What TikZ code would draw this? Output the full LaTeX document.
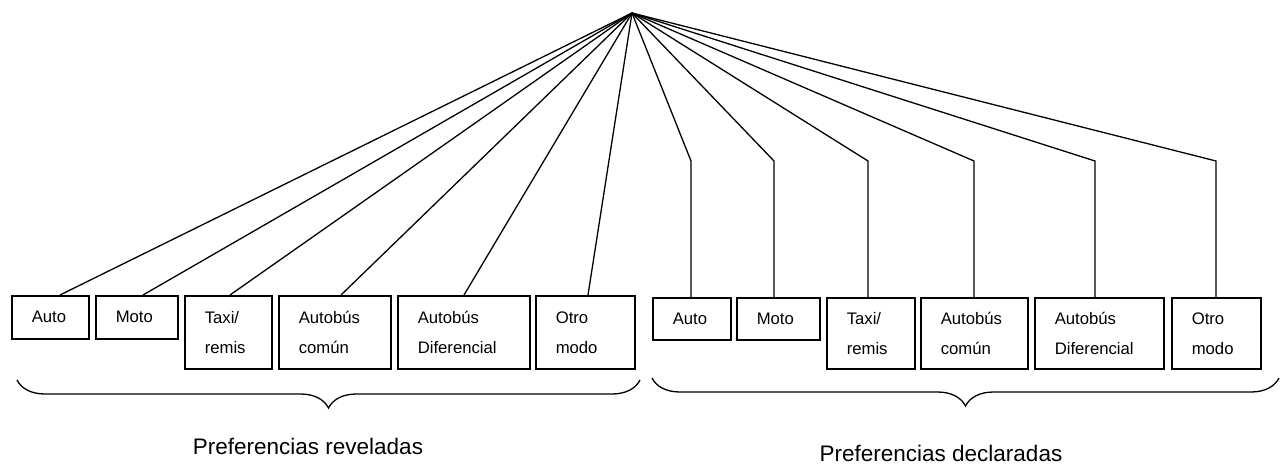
\documentclass[tikz,border=0pt]{standalone}
\usepackage{fontspec}
\setmainfont{Liberation Sans}
\usetikzlibrary{decorations.pathreplacing}
\begin{document}
\begin{tikzpicture}[x=1pt,y=-1pt,
  modebox/.style={draw,line width=1.5pt,anchor=north west,inner xsep=20pt,inner ysep=0pt,
    align=left,font=\fontsize{16.7}{30}\selectfont},
  link/.style={line width=1.3pt},
  bracestyle/.style={line width=1.3pt,decorate,decoration={brace,mirror,amplitude=28pt}},
  grouplabel/.style={anchor=base,font=\fontsize{22.5}{27}\selectfont}]
\useasboundingbox (0,0) rectangle (1281,465);
\coordinate (apex) at (632,13);
\coordinate (bendy) at (0,161);
% revealed preferences
\foreach \n/\x/\y/\w/\h/\t in {L1/11/295/77/43/Auto, L2/95/295/82/43/Moto,
  L3/184/295/87/73/{Taxi/\\remis}, L4/278/295/112/73/{Autobús\\común},
  L5/397/295/132/73/{Autobús\\Diferencial}, L6/535/295/99/73/{Otro\\modo},
  R1/652/297/78/42/Auto, R2/736/297/83/42/Moto,
  R3/826/297/88/71/{Taxi/\\remis}, R4/920/297/107/71/{Autobús\\común},
  R5/1034/297/129/71/{Autobús\\Diferencial}, R6/1171/297/89/71/{Otro\\modo}}
  \node[modebox,text width=\w pt-40pt,minimum height=\h pt] (\n) at (\x,\y) {\t};
% connectors to revealed boxes
\foreach \n/\d in {L1/49,L2/48,L3/46,L4/63,L5/67,L6/53}
  \draw[link] (apex) -- ([xshift=\d]\n.north west);
% connectors to declared boxes
\foreach \n/\d in {R1/39,R2/38,R3/42,R4/54,R5/61,R6/45}{
  \coordinate (\n t) at ([xshift=\d]\n.north west);
  \coordinate (\n b) at (\n t |- bendy);
  \draw[link] (apex) -- (\n b) -- (\n t);
}
% braces
\coordinate (lb1) at (17,380);
\coordinate (lb2) at (640,380);
\coordinate (rb1) at (652,378);
\coordinate (rb2) at (1279,378);
\draw[bracestyle] (lb1) -- (lb2);
\draw[bracestyle] (rb1) -- (rb2);
\node[grouplabel] (revl) at (308,454) {Preferencias reveladas};
\node[grouplabel] (decl) at (941,461) {Preferencias declaradas};
\end{tikzpicture}
\end{document}
